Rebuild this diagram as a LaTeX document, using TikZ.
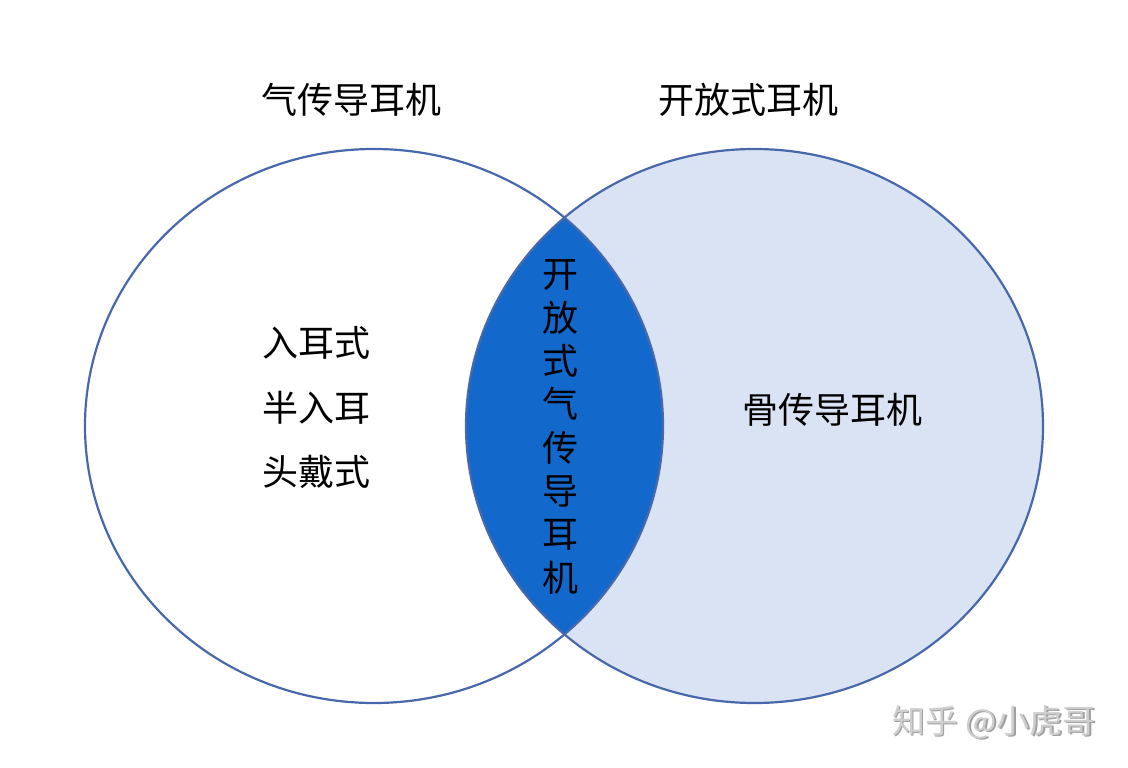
\documentclass[tikz,border=0pt]{standalone}
\usepackage{fontspec}
\setmainfont{Noto Sans CJK SC}
\definecolor{edge}{RGB}{72,104,172}
\definecolor{lightfill}{RGB}{218,227,243}
\definecolor{darkfill}{RGB}{19,104,204}
\definecolor{wmlight}{RGB}{206,206,206}
\definecolor{wmdark}{RGB}{160,160,160}
\tikzset{
  lbl/.style={font=\fontsize{36}{36}\selectfont, text=black, inner sep=0pt},
  outline/.style={draw=edge, line width=2.2pt},
  wm/.style={font=\fontsize{33}{33}\selectfont, inner sep=0pt}
}
\begin{document}
\begin{tikzpicture}[x=1pt,y=-1pt]
\useasboundingbox (0,0) rectangle (1128,768);
\fill[white] (0,0) rectangle (1128,768);
% right ellipse fill
\fill[lightfill] (754.5,426) ellipse [x radius=288.5, y radius=277];
% intersection
\begin{scope}
  \clip (374,426) ellipse [x radius=289, y radius=277];
  \fill[darkfill] (754.5,426) ellipse [x radius=288.5, y radius=277];
\end{scope}
% outlines
\draw[outline] (374,426) ellipse [x radius=289, y radius=277];
\draw[outline] (754.5,426) ellipse [x radius=288.5, y radius=277];
% titles
\node[lbl] (t1) at (351,100) {气传导耳机};
\node[lbl] (t2) at (748,100) {开放式耳机};
% left items
\node[lbl] (a1) at (316,343) {入耳式};
\node[lbl] (a2) at (316,408) {半入耳};
\node[lbl] (a3) at (316,472) {头戴式};
% right
\node[lbl] (b1) at (832,410) {骨传导耳机};
% middle vertical
\node[lbl, align=center, font=\fontsize{36}{43.3}\selectfont] (m) at (560,427) {开\\放\\式\\气\\传\\导\\耳\\机};
% watermark
\node[wm, text=wmdark] (w2) at (995.5,723.5) {知乎 @小虎哥};
\node[wm, text=wmlight] (w1) at (994,722) {知乎 @小虎哥};
\end{tikzpicture}
\end{document}
